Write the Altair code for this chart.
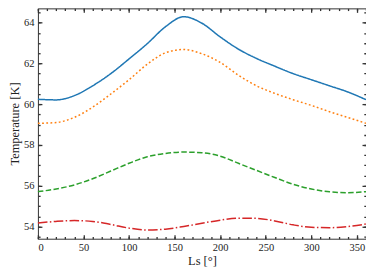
import altair as alt
import pandas as pd

ls = list(range(0, 361, 20))
t_blue = [60.24, 60.21, 60.42, 60.90, 61.50, 62.22, 62.97, 63.80, 64.29, 63.97,
          63.30, 62.70, 62.24, 61.86, 61.50, 61.20, 60.90, 60.60, 60.22]
t_orange = [59.06, 59.10, 59.35, 59.85, 60.50, 61.20, 61.96, 62.52, 62.68, 62.47,
            62.05, 61.42, 60.90, 60.53, 60.22, 59.94, 59.63, 59.35, 59.06]
t_green = [55.71, 55.84, 56.04, 56.34, 56.72, 57.10, 57.42, 57.58, 57.65, 57.62,
           57.45, 57.10, 56.75, 56.40, 56.07, 55.84, 55.70, 55.66, 55.71]
t_red = [54.17, 54.25, 54.29, 54.25, 54.10, 53.92, 53.83, 53.87, 54.00, 54.16,
         54.31, 54.41, 54.40, 54.27, 54.08, 53.96, 53.94, 54.00, 54.12]

series_names = ["a", "b", "c", "d"]
colors = ["#1f77b4", "#ff7f0e", "#2ca02c", "#d62728"]
dashes = [[1, 0], [1.8, 2.4], [5.5, 2.4], [9.6, 2.4, 1.5, 2.4]]

x_major = [0, 50, 100, 150, 200, 250, 300, 350]
x_minor = list(range(0, 361, 10))
y_major = [54, 56, 58, 60, 62, 64]
y_minor = [53.5 + 0.5 * i for i in range(23)]

rows = []
for name, vals in zip(series_names, [t_blue, t_orange, t_green, t_red]):
    for x, y in zip(ls, vals):
        rows.append({"Ls": x, "T": y, "series": name})
df = pd.DataFrame(rows)

FONT = "Liberation Serif"
xscale = alt.Scale(domain=[0, 360], nice=False, zero=False)
yscale = alt.Scale(domain=[53.4, 64.7], nice=False, zero=False)

base = alt.Chart(df)

lines = base.mark_line(strokeWidth=1.5, interpolate="monotone").encode(
    x=alt.X("Ls:Q", scale=xscale,
            axis=alt.Axis(orient="bottom", values=x_major, ticks=False, domain=False,
                          grid=False, title="Ls [°]", labelPadding=4, titlePadding=1,
                          labelFont=FONT, titleFont=FONT, labelFontSize=10.5,
                          titleFontSize=12.5, titleFontWeight="normal",
                          labelColor="#222", titleColor="#222")),
    y=alt.Y("T:Q", scale=yscale,
            axis=alt.Axis(orient="left", values=y_major, ticks=False, domain=False,
                          grid=False, title="Temperature [K]", labelPadding=4,
                          titlePadding=2, labelFont=FONT, titleFont=FONT,
                          labelFontSize=10.5, titleFontSize=12.5, titleFontWeight="normal",
                          labelColor="#222", titleColor="#222")),
    color=alt.Color("series:N", scale=alt.Scale(domain=series_names, range=colors),
                    legend=None),
    strokeDash=alt.StrokeDash("series:N",
                              scale=alt.Scale(domain=series_names, range=dashes),
                              legend=None),
)


def tick_layer(xorient, yorient, xvals, yvals, size):
    def ax(orient, vals):
        return alt.Axis(orient=orient, values=vals, labels=False, domain=False,
                        grid=False, ticks=True, tickSize=size, offset=-size,
                        title=None, tickColor="#333", tickWidth=1.3)
    return base.mark_point(opacity=0).encode(
        x=alt.X("Ls:Q", scale=xscale, axis=ax(xorient, xvals)),
        y=alt.Y("T:Q", scale=yscale, axis=ax(yorient, yvals)),
    )


chart = alt.layer(
    lines,
    tick_layer("bottom", "left", x_major, y_major, 4),
    tick_layer("top", "right", x_major, y_major, 4),
    tick_layer("bottom", "left", x_minor, y_minor, 2.2),
    tick_layer("top", "right", x_minor, y_minor, 2.2),
).resolve_axis(x="independent", y="independent").properties(
    width=329, height=231,
    autosize=alt.AutoSizeParams(type="none"),
    padding={"left": 30, "top": 0, "right": 0, "bottom": 30},
).configure_view(stroke="#333", strokeWidth=1)

chart.save("out.html", embed_options={"renderer": "svg", "actions": False})
